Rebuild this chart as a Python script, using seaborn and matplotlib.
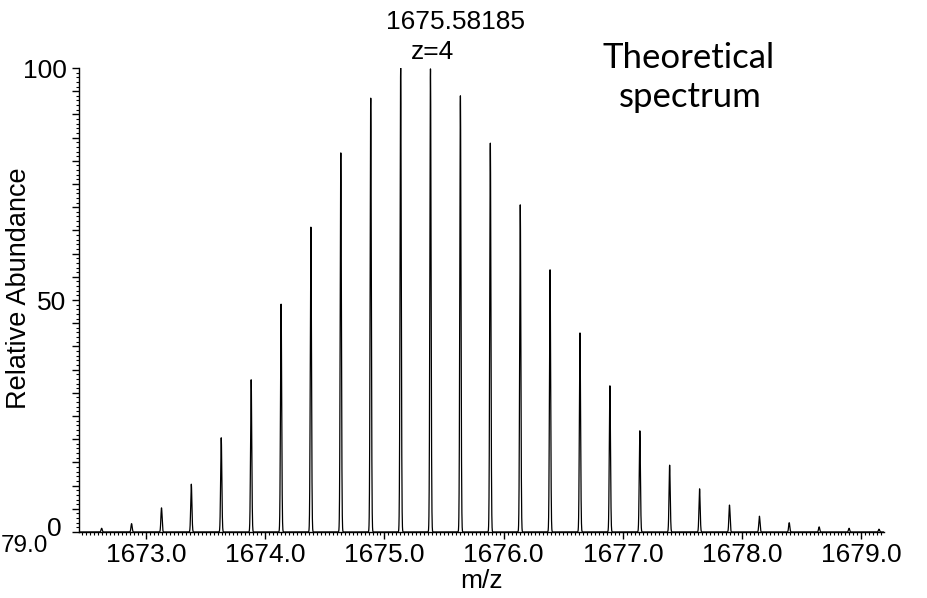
import numpy as np
import pandas as pd
import matplotlib
matplotlib.use("Agg")
import matplotlib.pyplot as plt
import matplotlib.transforms as mtransforms
import seaborn as sns
from matplotlib.ticker import MultipleLocator, FixedLocator, FuncFormatter

# ── Données : pics isotopiques (m/z, abondance relative) ─────────────────────
peak_mz = [1672.628, 1672.879, 1673.130, 1673.380, 1673.631, 1673.882,
           1674.133, 1674.383, 1674.634, 1674.885, 1675.136, 1675.386,
           1675.637, 1675.888, 1676.139, 1676.389, 1676.640, 1676.891,
           1677.142, 1677.392, 1677.643, 1677.894, 1678.145, 1678.395,
           1678.646, 1678.897, 1679.148]
peak_abund = [0.8, 1.8, 5.2, 10.3, 20.3, 32.8, 49.1, 65.7, 81.7, 93.5, 100.0,
              99.8, 94.0, 83.8, 70.5, 56.5, 42.9, 31.5, 21.8, 14.4, 9.3, 5.8,
              3.4, 2.0, 1.1, 0.8, 0.6]
x_ticks = [1673.0, 1674.0, 1675.0, 1676.0, 1677.0, 1678.0, 1679.0]
y_labels = [50, 100]
annot_mass = "1675.58185"
annot_charge = "z=4"

XMIN, XMAX = 1672.438, 1679.19
SIGMA = 0.005  # largeur du profil de pic

# profil continu construit à partir des pics
mz = np.arange(XMIN, XMAX, 0.0005)
profile = np.zeros_like(mz)
for m, h in zip(peak_mz, peak_abund):
    profile += h * np.exp(-0.5 * ((mz - m) / SIGMA) ** 2)
df = pd.DataFrame({"mz": mz, "abund": profile})

# ── Figure ───────────────────────────────────────────────────────────────────
sns.set_theme(style="ticks")
plt.rcParams["font.family"] = ["Liberation Sans", "DejaVu Sans"]
plt.rcParams.update({"text.color": "black", "axes.labelcolor": "black",
                     "xtick.color": "black", "ytick.color": "black"})
FS = 19

fig = plt.figure(figsize=(9.27, 5.98), dpi=100)
ax = fig.add_axes([79 / 927, 66 / 598, 805 / 927, 464 / 598])

sns.lineplot(data=df, x="mz", y="abund", color="black", linewidth=0.9,
             estimator=None, ax=ax)

ax.set_xlim(XMIN, XMAX)
ax.set_ylim(0, 100)
sns.despine(ax=ax)
for s in ("left", "bottom"):
    ax.spines[s].set_linewidth(1.0)
    ax.spines[s].set_color("black")

ax.xaxis.set_major_locator(FixedLocator(x_ticks))
ax.xaxis.set_major_formatter(FuncFormatter(lambda v, p: f"{v:.1f}"))
ax.xaxis.set_minor_locator(MultipleLocator(1 / 30))
ax.yaxis.set_major_locator(MultipleLocator(5))
ax.yaxis.set_major_formatter(
    FuncFormatter(lambda v, p: f"{int(round(v))}" if int(round(v)) in y_labels else ""))
ax.yaxis.set_minor_locator(MultipleLocator(1))

ax.tick_params(axis="both", which="major", length=5, width=1, color="black",
               labelsize=FS, labelcolor="black")
ax.tick_params(axis="both", which="minor", length=2.5, width=0.8, color="black")
ax.tick_params(axis="x", which="major", pad=3)
ax.tick_params(axis="y", which="major", pad=4)

# le "0" de l'axe y est décalé vers la gauche dans l'original
off = mtransforms.ScaledTranslation(-17 / 100, 3 / 100, fig.dpi_scale_trans)
ax.text(0, 0, "0", transform=ax.get_yaxis_transform() + off,
        ha="right", va="center", fontsize=FS)

ax.set_xlabel("m/z", fontsize=FS, labelpad=1)
ax.set_ylabel("Relative Abundance", fontsize=FS + 0.5)
ax.yaxis.set_label_coords(-0.058, 0.525)

# étiquette tronquée du bord gauche (artefact du logiciel d'origine)
fig.text(0.5 / 927, 1 - 535 / 598, "79.0", ha="left", va="top", fontsize=FS - 1.5)

# annotations
fig.text(456 / 927, 1 - 22 / 598, annot_mass, ha="center", va="center", fontsize=FS)
fig.text(432 / 927, 1 - 52 / 598, annot_charge, ha="center", va="center", fontsize=FS)
fig.text(689 / 927, 1 - 68 / 598, "Theoretical", ha="center", va="baseline",
         fontsize=25, family=["Lato", "DejaVu Sans"])
fig.text(690 / 927, 1 - 107 / 598, "spectrum", ha="center", va="baseline",
         fontsize=25, family=["Lato", "DejaVu Sans"])

fig.savefig("out.png", dpi=100)
